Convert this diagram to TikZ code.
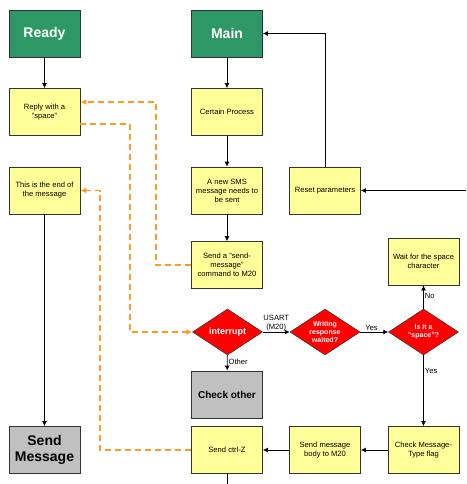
\documentclass[tikz,border=0pt]{standalone}
\usepackage{fontspec}
\setmainfont{Liberation Sans}
\usetikzlibrary{shapes.geometric,arrows.meta}
\definecolor{stategreen}{HTML}{2E9766}
\definecolor{boxyellow}{HTML}{FFFF99}
\definecolor{boxgrey}{HTML}{C0C0C0}
\definecolor{flowred}{HTML}{FF0000}
\definecolor{flowline}{HTML}{FF9A22}
\definecolor{edgegrey}{HTML}{333333}
\tikzset{
  box/.style={draw=edgegrey, line width=0.8pt, minimum width=71pt, minimum height=47pt,
    inner sep=1pt, align=center, font=\fontsize{7.6}{9}\selectfont},
  statebox/.style={box, fill=stategreen, text=white, font=\bfseries\fontsize{14}{16}\selectfont},
  procbox/.style={box, fill=boxyellow},
  greybox/.style={box, fill=boxgrey, font=\bfseries\fontsize{10}{12}\selectfont},
  endbox/.style={box, fill=boxgrey, font=\bfseries\fontsize{14}{16}\selectfont},
  decision/.style={diamond, aspect=1.5, fill=flowred, draw=edgegrey, line width=0.5pt,
    minimum width=70pt, minimum height=46pt, inner sep=0pt, text=white, align=center,
    font=\bfseries\fontsize{7}{8}\selectfont},
  flow/.style={draw=black, line width=0.8pt, -{Latex[length=5pt,width=5pt]}},
  msg/.style={draw=flowline, line width=1.7pt, dash pattern=on 6pt off 4pt,
    -{Latex[length=6pt,width=6pt]}},
  lbl/.style={font=\fontsize{7.6}{8.5}\selectfont, inner sep=1pt, align=center}
}
\begin{document}
\begin{tikzpicture}[x=1pt,y=-1pt]
\useasboundingbox (0,0) rectangle (466,484);

% left column
\node[statebox] (ready) at (44.5,33.5) {Ready};
\node[procbox] (reply) at (44.5,112) {Reply with a\\"space"};
\node[procbox] (endmsg) at (44.5,190.5) {This is the end of\\the message};
\node[endbox] (sendmsg) at (44.5,450) {Send\\Message};

% main column
\node[statebox] (main) at (227,33.5) {Main};
\node[procbox] (certain) at (227,112) {Certain Process};
\node[procbox] (newsms) at (227,190.5) {A new SMS\\message needs to\\be sent};
\node[procbox] (sendcmd) at (227,265) {Send a "send-\\message"\\command to M20};
\node[decision] (intr) at (227.5,332) {\fontsize{9}{10}\selectfont interrupt};
\node[greybox] (other) at (227,394.5) {Check other};
\node[procbox] (ctrlz) at (227,450) {Send ctrl-Z};

% right part
\node[procbox] (reset) at (325,190.5) {Reset parameters};
\node[decision] (waited) at (325,332) {Writing\\response\\waited?};
\node[procbox] (body) at (325,450) {Send message\\body to M20};
\node[decision] (isspace) at (423.5,332) {Is it a\\"space"?};
\node[procbox] (waitspace) at (423.5,261.5) {Wait for the space\\character};
\node[procbox] (flag) at (423.5,450) {Check Message-\\Type flag};

\coordinate (incoming) at (466,190.5);
\coordinate (outgoing) at (227,484);

% solid control flow
\draw[flow] (ready) -- (reply);
\draw[flow] (endmsg) -- (sendmsg);
\draw[flow] (main) -- (certain);
\draw[flow] (certain) -- (newsms);
\draw[flow] (newsms) -- (sendcmd);
\draw[flow] (intr) -- node[lbl, right, pos=0.45] {Other} (other);
\draw[flow] (intr) -- node[lbl, above] {USART\\(M20)} (waited);
\draw[flow] (waited) -- node[lbl, above, pos=0.4] {Yes} (isspace);
\draw[flow] (isspace) -- node[lbl, right, pos=0.55] {No} (waitspace);
\draw[flow] (isspace) -- node[lbl, right, pos=0.22] {Yes} (flag);
\draw[flow] (flag) -- (body);
\draw[flow] (body) -- (ctrlz);
\draw[flow] (incoming) -- (reset);
\draw[flow] (reset.north) |- (main.east);
\draw[draw=black, line width=0.8pt] (ctrlz) -- (outgoing);

% dashed message exchange
\draw[msg] (sendcmd.west) -- ++(-35,0) |- ([yshift=10pt]reply.east);
\draw[msg] ([yshift=-12pt]reply.east) -- ++(49.6,0) |- (intr.west);
\draw[msg] (ctrlz.west) -- ++(-91,0) |- (endmsg.east);
\end{tikzpicture}
\end{document}
